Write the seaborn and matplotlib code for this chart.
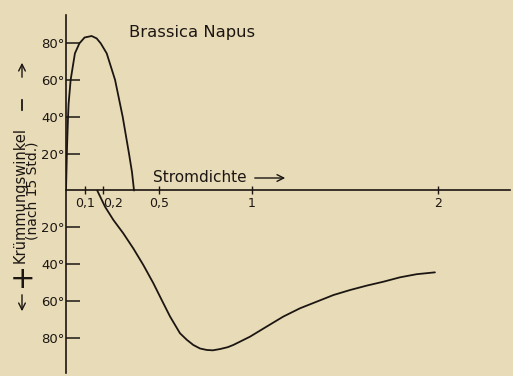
import numpy as np
import pandas as pd
import seaborn as sns
import matplotlib
matplotlib.use('Agg')
import matplotlib.pyplot as plt

# positive branch (Krümmung +)
pos_x = [0.0, 0.006, 0.011, 0.014, 0.025, 0.048, 0.072, 0.1, 0.138,
         0.165, 0.187, 0.219, 0.264, 0.305, 0.339, 0.355, 0.366]
pos_y = [0, 25, 40, 47, 60, 74.4, 79.8, 83, 83.8,
         82.5, 79.8, 74.4, 60, 40, 20, 10, 0]

# negative branch (Krümmung -)
neg_x = [0.168, 0.21, 0.255, 0.308, 0.362, 0.416, 0.47, 0.515, 0.56, 0.613,
         0.65, 0.685, 0.721, 0.757, 0.79, 0.829, 0.87, 0.9, 0.99, 1.08,
         1.169, 1.259, 1.349, 1.439, 1.528, 1.618, 1.707, 1.797, 1.887, 1.985]
neg_y = [0, -8.8, -16, -23.2, -31.4, -40.4, -50.3, -59.4, -68.4, -77.4,
         -81, -83.8, -85.7, -86.5, -86.7, -86, -85, -83.8, -79.3, -73.8,
         -68.4, -63.9, -60.3, -56.7, -54, -51.6, -49.5, -47.1, -45.4, -44.4]

x_ticks = [0.1, 0.2, 0.5, 1, 2]
x_labels = ['0,1', '0,2', '0,5', '1', '2']
y_ticks = [80, 60, 40, 20, -20, -40, -60, -80]
y_labels = ['80°', '60°', '40°', '20°', '20°', '40°', '60°', '80°']

bg = '#e8dbb8'
ink = '#1c1612'

sns.set_theme(style='white', rc={'axes.facecolor': bg, 'figure.facecolor': bg,
                                 'axes.edgecolor': ink, 'text.color': ink,
                                 'xtick.color': ink, 'ytick.color': ink})
plt.rcParams['font.family'] = ['DejaVu Sans']

fig = plt.figure(figsize=(5.13, 3.76), dpi=100)
W, H = 513, 376
ax = fig.add_axes([66 / W, 3 / H, (510 - 66) / W, (373 - 15) / H])

pos = pd.DataFrame({'x': pos_x, 'y': pos_y})
neg = pd.DataFrame({'x': neg_x, 'y': neg_y})
sns.lineplot(x='x', y='y', data=pos, sort=False, estimator=None, color=ink, lw=1.3, ax=ax)
sns.lineplot(x='x', y='y', data=neg, sort=False, estimator=None, color=ink, lw=1.3, ax=ax)

ax.set_xlim(0, 2.389)
ax.set_ylim(-99.0, 95.2)
ax.spines['left'].set_position(('data', 0))
ax.spines['bottom'].set_position(('data', 0))
ax.spines['top'].set_visible(False)
ax.spines['right'].set_visible(False)
for s in ['left', 'bottom']:
    ax.spines[s].set_linewidth(1.2)

ax.set_xticks(x_ticks)
ax.set_xticklabels(x_labels, fontsize=9)
ax.get_xticklabels()[0].set_ha('center')
ax.get_xticklabels()[1].set_ha('left')
ax.set_yticks(y_ticks)
ax.set_yticklabels(y_labels, fontsize=9.5)
ax.tick_params(axis='x', direction='inout', length=6, width=1, pad=2, bottom=True)
ax.tick_params(axis='y', direction='in', length=10, width=1.1, pad=1, left=True)
ax.set_xlabel('')
ax.set_ylabel('')

# texts, placed in figure pixels
def px(x, y):
    return (x, H - y)

ax.annotate('Brassica Napus', xy=px(129, 33), xycoords='figure pixels',
            fontsize=11.8, ha='left', va='center')
ax.annotate('Stromdichte', xy=px(153, 178), xycoords='figure pixels',
            fontsize=11, ha='left', va='center')
ax.annotate('', xy=px(288, 178), xytext=px(252, 178), xycoords='figure pixels',
            arrowprops=dict(arrowstyle='->', color=ink, lw=1))

ax.annotate('Krümmungswinkel', xy=px(20, 195), xycoords='figure pixels',
            fontsize=10.5, rotation=90, ha='center', va='center')
ax.annotate('(nach 15 Std.)', xy=px(33, 191), xycoords='figure pixels',
            fontsize=10, rotation=90, ha='center', va='center')
ax.annotate('+', xy=px(23, 279), xycoords='figure pixels',
            fontsize=22, ha='center', va='center')
ax.annotate('', xy=px(22, 97), xytext=px(22, 113), xycoords='figure pixels',
            arrowprops=dict(arrowstyle='-', color=ink, lw=1.3))
ax.annotate('', xy=px(22, 60), xytext=px(22, 80), xycoords='figure pixels',
            arrowprops=dict(arrowstyle='->', color=ink, lw=1))
ax.annotate('', xy=px(22, 314), xytext=px(22, 292), xycoords='figure pixels',
            arrowprops=dict(arrowstyle='->', color=ink, lw=1))

plt.savefig('out.png', dpi=100, facecolor=bg)
plt.close()
